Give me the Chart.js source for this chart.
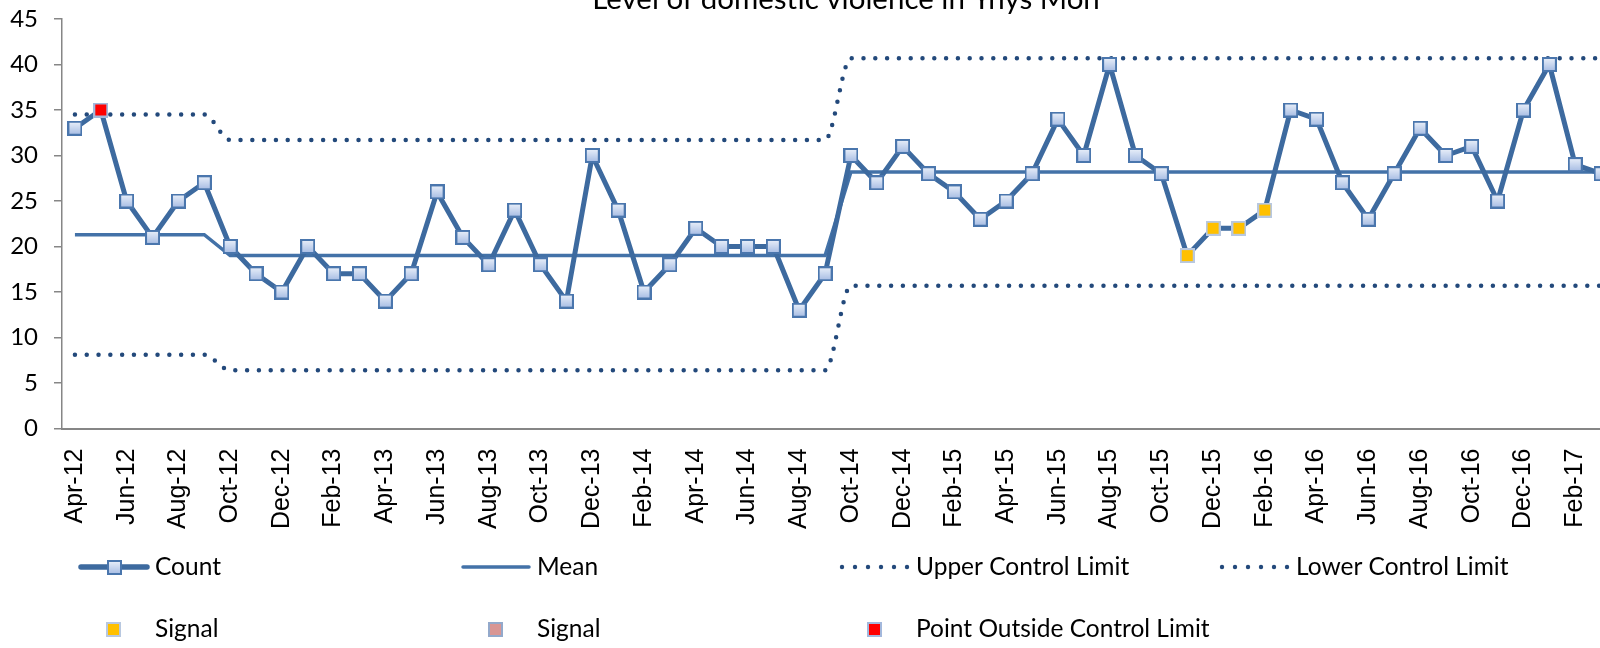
<!DOCTYPE html>
<html>
<head>
<meta charset="utf-8">
<title>Level of domestic violence in Ynys Mon</title>
<script src="https://cdn.jsdelivr.net/npm/chart.js@4.4.0/dist/chart.umd.min.js"></script>
<style>
  html, body { margin: 0; padding: 0; background: #fff; overflow: hidden; }
  #wrap { position: relative; width: 1626px; height: 648px; }
</style>
</head>
<body>
<div id="wrap"><canvas id="spcChart"></canvas></div>
<script>
// monthly categories, Apr-12 .. Mar-17
const months = [
  'Apr-12', 'May-12', 'Jun-12', 'Jul-12', 'Aug-12', 'Sep-12', 'Oct-12', 'Nov-12', 'Dec-12',
  'Jan-13', 'Feb-13', 'Mar-13', 'Apr-13', 'May-13', 'Jun-13', 'Jul-13', 'Aug-13', 'Sep-13', 'Oct-13', 'Nov-13', 'Dec-13',
  'Jan-14', 'Feb-14', 'Mar-14', 'Apr-14', 'May-14', 'Jun-14', 'Jul-14', 'Aug-14', 'Sep-14', 'Oct-14', 'Nov-14', 'Dec-14',
  'Jan-15', 'Feb-15', 'Mar-15', 'Apr-15', 'May-15', 'Jun-15', 'Jul-15', 'Aug-15', 'Sep-15', 'Oct-15', 'Nov-15', 'Dec-15',
  'Jan-16', 'Feb-16', 'Mar-16', 'Apr-16', 'May-16', 'Jun-16', 'Jul-16', 'Aug-16', 'Sep-16', 'Oct-16', 'Nov-16', 'Dec-16',
  'Jan-17', 'Feb-17', 'Mar-17'
];

// recorded incidents per month
const counts = [
  33, 35, 25, 21, 25, 27, 20, 17, 15, 20,
  17, 17, 14, 17, 26, 21, 18, 24, 18, 14,
  30, 24, 15, 18, 22, 20, 20, 20, 13, 17,
  30, 27, 31, 28, 26, 23, 25, 28, 34, 30,
  40, 30, 28, 19, 22, 22, 24, 35, 34, 27,
  23, 28, 33, 30, 31, 25, 35, 40, 29, 28
];

// process phases (mean and control limits recalculated at each start)
const phaseStarts = ['Apr-12', 'Oct-12', 'Oct-14'];
const phaseMeans = [21.3, 19.0, 28.2];
const phaseUpper = [34.5, 31.7, 40.7];
const phaseLower = [8.1, 6.4, 15.7];

// flagged months
const signalMonths = ['Nov-15', 'Dec-15', 'Jan-16', 'Feb-16'];
const signal2Months = [];
const outsideMonths = ['May-12'];

const yMax = 45;
const yStep = 5;

const chartTitle = 'Level of domestic violence in Ynys Mon';

document.addEventListener('DOMContentLoaded', () => {
  const startIdx = phaseStarts.map(m => months.indexOf(m));
  const phaseOf = i => {
    let p = 0;
    startIdx.forEach((s, k) => { if (i >= s) p = k; });
    return p;
  };
  const meanLine = months.map((m, i) => phaseMeans[phaseOf(i)]);
  const upperLine = months.map((m, i) => phaseUpper[phaseOf(i)]);
  const lowerLine = months.map((m, i) => phaseLower[phaseOf(i)]);
  const pick = list => months.map((m, i) => list.includes(m) ? counts[i] : null);

  // square marker bitmaps
  function squareMarker(size, fill, edge, top) {
    const c = document.createElement('canvas');
    c.width = size;
    c.height = size;
    const g = c.getContext('2d');
    let f = fill;
    if (top) {
      f = g.createLinearGradient(0, 0, 0, size);
      f.addColorStop(0, top);
      f.addColorStop(1, fill);
    }
    g.fillStyle = edge;
    g.fillRect(0, 0, size, size);
    g.fillStyle = f;
    g.fillRect(2, 2, size - 4, size - 4);
    return c;
  }

  const countMarker = squareMarker(15, '#a2b9e2', '#4a76ad', '#eef3fb');
  const signalMarker = squareMarker(15, '#ffc000', '#b8c8e0');
  const pinkMarker = squareMarker(15, '#d99694', '#93a9cb');
  const redMarker = squareMarker(15, '#ff0000', '#a3b8dc');

  const lineBlue = '#3d6a9f';
  const meanBlue = '#4372a8';
  const dotBlue = '#23497b';

  const dotted = {
    borderColor: dotBlue,
    borderWidth: 4.5,
    borderDash: [0, 11.8],
    borderCapStyle: 'round',
    cubicInterpolationMode: 'monotone',
    pointRadius: 0,
    fill: false,
    order: 2
  };

  // title, partly above the canvas edge
  const titlePlugin = {
    id: 'topTitle',
    afterDraw(chart) {
      const ctx = chart.ctx;
      ctx.save();
      ctx.font = '29.5px Lato';
      ctx.fillStyle = '#000';
      ctx.textAlign = 'center';
      ctx.textBaseline = 'alphabetic';
      ctx.fillText(chartTitle, 846, 9);
      ctx.restore();
    }
  };

  // two-row legend under the axis labels
  const legendPlugin = {
    id: 'gridLegend',
    afterDraw(chart) {
      const ctx = chart.ctx;
      const cols = [79, 461, 840, 1220];
      const rows = [567, 629];
      const items = [
        { text: 'Count', col: 0, row: 0, kind: 'count' },
        { text: 'Mean', col: 1, row: 0, kind: 'mean' },
        { text: 'Upper Control Limit', col: 2, row: 0, kind: 'dots' },
        { text: 'Lower Control Limit', col: 3, row: 0, kind: 'dots' },
        { text: 'Signal', col: 0, row: 1, kind: signalMarker },
        { text: 'Signal', col: 1, row: 1, kind: pinkMarker },
        { text: 'Point Outside Control Limit', col: 2, row: 1, kind: redMarker }
      ];
      ctx.save();
      items.forEach(it => {
        const x = cols[it.col];
        const y = rows[it.row];
        if (it.kind === 'count' || it.kind === 'mean') {
          ctx.strokeStyle = it.kind === 'count' ? lineBlue : meanBlue;
          ctx.lineWidth = it.kind === 'count' ? 5.5 : 3.5;
          ctx.lineCap = 'round';
          ctx.beginPath();
          ctx.moveTo(x + 2, y);
          ctx.lineTo(x + 68, y);
          ctx.stroke();
          if (it.kind === 'count') ctx.drawImage(countMarker, x + 28, y - 7);
        } else if (it.kind === 'dots') {
          ctx.fillStyle = dotBlue;
          for (let k = 0; k < 6; k++) {
            ctx.beginPath();
            ctx.arc(x + 2 + k * 13, y, 2.2, 0, Math.PI * 2);
            ctx.fill();
          }
        } else {
          ctx.drawImage(it.kind, x + 27, y - 7);
        }
        ctx.font = '24.5px Lato';
        ctx.fillStyle = '#000';
        ctx.textAlign = 'left';
        ctx.textBaseline = 'middle';
        ctx.fillText(it.text, x + 76, y);
      });
      ctx.restore();
    }
  };

  const ctx = document.getElementById('spcChart').getContext('2d');
  const spcChart = new Chart(ctx, {
    type: 'line',
    data: {
      labels: months,
      datasets: [
        {
          label: 'Count',
          data: counts,
          borderColor: lineBlue,
          borderWidth: 5,
          borderJoinStyle: 'round',
          pointStyle: countMarker,
          pointRadius: 7,
          tension: 0,
          order: 1
        },
        {
          label: 'Mean',
          data: meanLine,
          borderColor: meanBlue,
          borderWidth: 3.5,
          pointRadius: 0,
          tension: 0,
          order: 2
        },
        Object.assign({ label: 'Upper Control Limit', data: upperLine }, dotted),
        Object.assign({ label: 'Lower Control Limit', data: lowerLine }, dotted),
        {
          label: 'Signal',
          data: pick(signalMonths),
          showLine: false,
          pointStyle: signalMarker,
          pointRadius: 7,
          order: 0
        },
        {
          label: 'Signal',
          data: pick(signal2Months),
          showLine: false,
          pointStyle: pinkMarker,
          pointRadius: 7,
          order: 0
        },
        {
          label: 'Point Outside Control Limit',
          data: pick(outsideMonths),
          showLine: false,
          pointStyle: redMarker,
          pointRadius: 7,
          order: 0
        }
      ]
    },
    options: {
      responsive: true,
      maintainAspectRatio: false,
      animation: false,
      events: [],
      layout: {
        padding: { top: 19, left: 0, right: 0, bottom: 0 }
      },
      plugins: {
        legend: { display: false },
        tooltip: { enabled: false },
        title: { display: false }
      },
      scales: {
        x: {
          offset: true,
          grid: { display: true, drawOnChartArea: false, drawTicks: false },
          border: { color: '#868686', width: 2 },
          ticks: {
            autoSkip: false,
            maxRotation: 90,
            minRotation: 90,
            padding: 20,
            color: '#000',
            font: { family: 'Liberation Sans', size: 25 },
            callback: (v, i) => (i % 2 === 0 ? months[i] : '')
          },
          afterFit: s => {
            s.height = 219.5;
            s.paddingLeft = 0;
            s.paddingRight = 0;
          }
        },
        y: {
          min: 0,
          max: yMax,
          ticks: {
            stepSize: yStep,
            padding: 16,
            color: '#000',
            font: { family: 'Lato', size: 24 }
          },
          grid: { drawOnChartArea: false, tickLength: 8, color: '#868686', lineWidth: 1.5 },
          border: { color: '#868686', width: 1.5 },
          afterFit: s => {
            s.width = 62;
            s.paddingTop = 0;
            s.paddingBottom = 0;
          }
        }
      }
    },
    plugins: [titlePlugin, legendPlugin]
  });
});
</script>
</body>
</html>
